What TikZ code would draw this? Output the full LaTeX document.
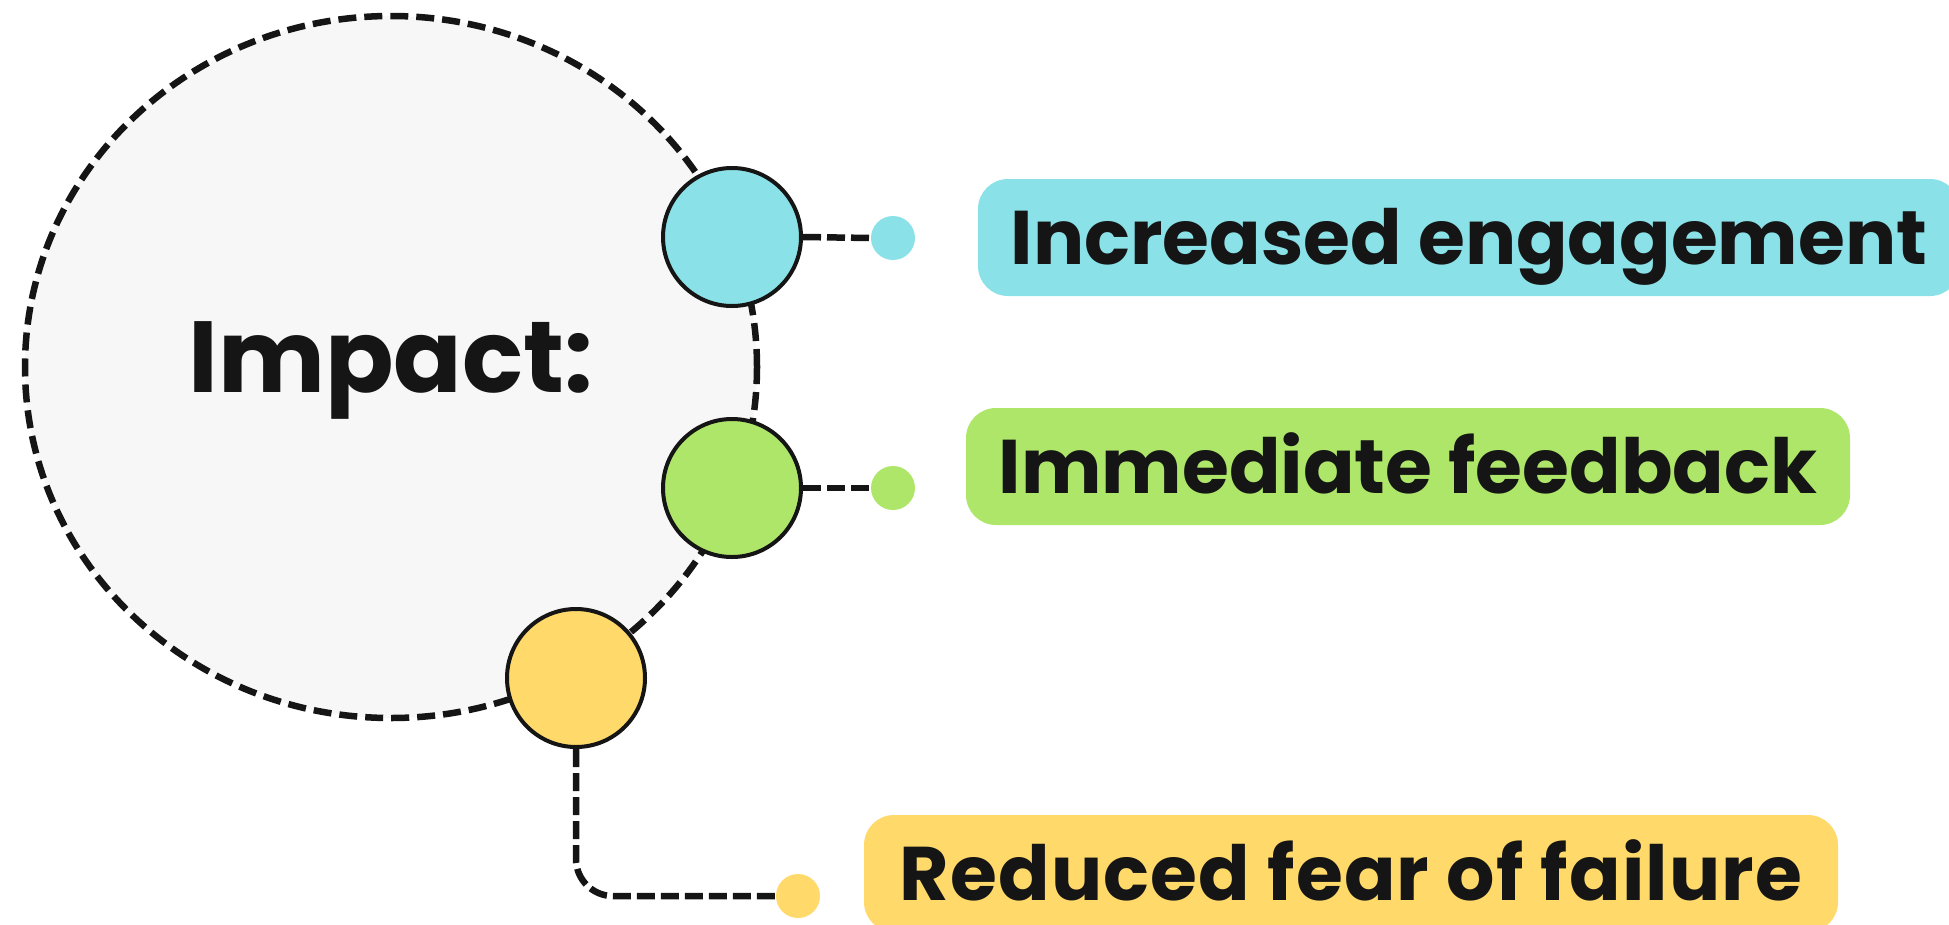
\documentclass[tikz,border=0pt]{standalone}
\usepackage{fontspec}
\setmainfont{Poppins}
\usetikzlibrary{shapes.geometric}
\definecolor{ink}{HTML}{151515}
\definecolor{hubgrey}{HTML}{F7F7F7}
\definecolor{cyanfill}{HTML}{8AE2E8}
\definecolor{greenfill}{HTML}{AEE66A}
\definecolor{yellowfill}{HTML}{FFD96A}
\tikzset{
  hubline/.style={draw=ink, line width=6.5pt, dash pattern=on 18pt off 8pt},
  joint/.style={circle, draw=ink, line width=4pt, minimum size=138pt, inner sep=0pt},
  pin/.style={circle, minimum size=44pt, inner sep=0pt},
  link/.style={draw=ink, line width=6.5pt, dash pattern=on 18pt off 6pt},
  label/.style={rectangle, rounded corners=30pt, minimum height=117pt, inner sep=0pt,
    text height=53pt, text depth=0pt, font=\bfseries\fontsize{76pt}{80pt}\selectfont, text=ink},
}
\begin{document}
\begin{tikzpicture}[x=1pt, y=-1pt]
  \useasboundingbox (0,0) rectangle (1949,924);
  % central hub
  \node[ellipse, minimum width=732pt, minimum height=702pt, fill=hubgrey, hubline] (hub) at (391,367) {};
  \node[anchor=base, font=\bfseries\fontsize{101pt}{105pt}\selectfont, text=ink] (title) at (391,392) {Impact:};
  % joints on the hub rim
  \node[joint, fill=cyanfill] (jc) at (732,237) {};
  \node[joint, fill=greenfill] (jg) at (732,488) {};
  \node[joint, fill=yellowfill] (jy) at (576,678) {};
  % end pins
  \node[pin, fill=cyanfill] (pc) at (893,238) {};
  \node[pin, fill=greenfill] (pg) at (893,488) {};
  \node[pin, fill=yellowfill] (py) at (798,896) {};
  % label boxes
  \node[label, fill=cyanfill, minimum width=982pt] (lc) at (1469,237.5) {Increased engagement};
  \node[label, fill=greenfill, minimum width=884pt] (lg) at (1408,466.5) {Immediate feedback};
  \node[label, fill=yellowfill, minimum width=974pt] (ly) at (1351,873.5) {\addfontfeature{LetterSpace=1.5}Reduced fear of failure};
  % connectors
  \draw[link] (jc.east) -- (pc.west);
  \draw[link] (jg.east) -- (pg.west);
  \draw[link, rounded corners=37pt] (jy.south) |- (py.west);
\end{tikzpicture}
\end{document}
